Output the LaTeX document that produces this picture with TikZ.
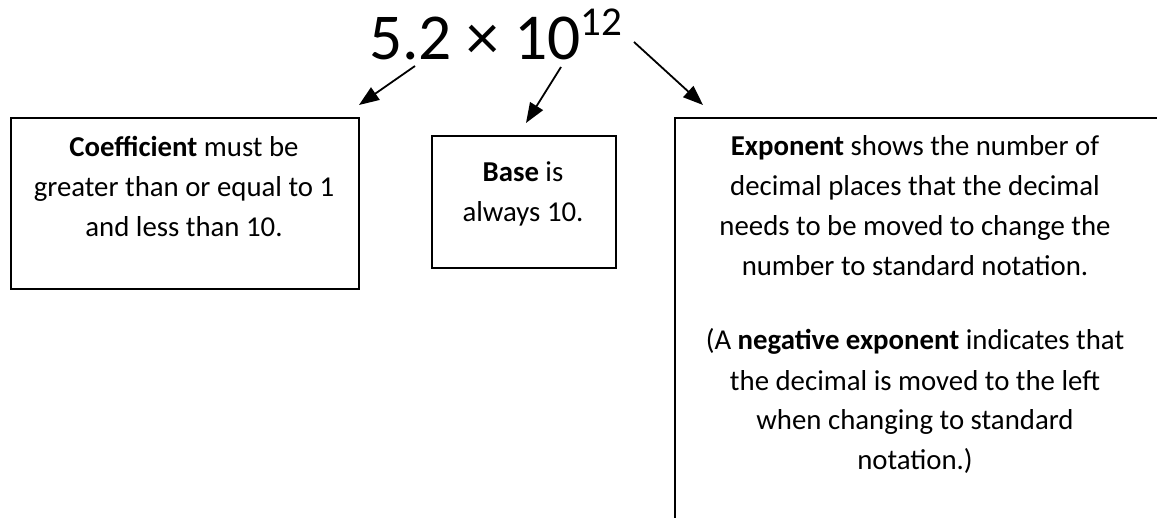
\documentclass[tikz,border=0pt]{standalone}
\usepackage{fontspec}
\setmainfont{Carlito}
\usetikzlibrary{arrows.meta}
\begin{document}
\begin{tikzpicture}[x=1pt,y=-1pt,
  box/.style={draw=black,line width=1.8pt,inner sep=0pt,anchor=north west},
  txt/.style={align=center,inner sep=0pt,anchor=base,font=\fontsize{28.8}{40}\selectfont},
  arr/.style={line width=1.8pt,-{Triangle[length=20pt,width=15pt]}}]
\useasboundingbox (0,0) rectangle (1157,518);
\clip (0,0) rectangle (1157,518);
\node[inner sep=0pt,anchor=base west,font=\fontsize{65.5}{70}\selectfont] (title) at (369,60) {5.2 × 10\raisebox{24pt}{\fontsize{41}{41}\selectfont 12}};
\node[box,minimum width=348pt,minimum height=171pt] (coefbox) at (10,117) {};
\node[box,minimum width=184pt,minimum height=132pt] (basebox) at (431,135) {};
\node[box,minimum width=500pt,minimum height=440pt] (expbox) at (674,117) {};
\node[txt] (coeftxt) at (184,237) {\textbf{Coefficient} must be\\greater than or equal to 1\\and less than 10.};
\node[txt] (basetxt) at (523,222) {\textbf{Base} is\\always 10.};
\node[txt] (exptxt) at (915,276) {\textbf{Exponent} shows the number of\\decimal places that the decimal\\needs to be moved to change the\\number to standard notation.};
\node[txt] (negtxt) at (915,470) {(A \textbf{negative exponent} indicates that\\the decimal is moved to the left\\when changing to standard\\notation.)};
\coordinate (a1s) at (415,66);
\coordinate (a1e) at (359,105);
\coordinate (a2s) at (561,67);
\coordinate (a2e) at (526,123);
\coordinate (a3s) at (634,42);
\coordinate (a3e) at (703,105);
\draw[arr] (a1s) -- (a1e);
\draw[arr] (a2s) -- (a2e);
\draw[arr] (a3s) -- (a3e);
\end{tikzpicture}
\end{document}
